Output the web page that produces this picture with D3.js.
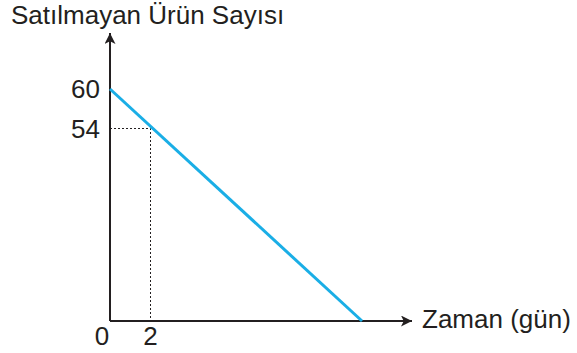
<!DOCTYPE html>
<html>
<head>
<meta charset="utf-8">
<script src="https://cdn.jsdelivr.net/npm/d3@7"></script>
<style>
  html, body { margin: 0; padding: 0; background: #fff; }
  svg { display: block; }
  text { font-family: "Liberation Sans", Arial, sans-serif; fill: #231f20; }
</style>
</head>
<body>
<svg></svg>
<script>
// chart values
const days = [0, 20];          // line start / end (x)
const unsold = [60, 0];        // line start / end (y)
const markDay = 2;
const markUnsold = 54;
const xTicks = [0, 2];
const yTicks = [60, 54];
const yTitle = 'Satılmayan Ürün Sayısı';
const xTitle = 'Zaman (gün)';

const width = 577, height = 353;
const svg = d3.select('svg').attr('width', width).attr('height', height);

// schematic axes: piecewise scales so the marked point sits where the picture puts it
const x = d3.scaleLinear().domain([0, markDay, 20]).range([110, 150.5, 362]);
const y = d3.scaleLinear().domain([0, markUnsold, 60]).range([321, 128.5, 89]);

const ink = '#231f20';
const fs = 26;

svg.append('defs').append('marker')
  .attr('id', 'arrow')
  .attr('viewBox', '0 0 10 10')
  .attr('refX', 10).attr('refY', 5)
  .attr('markerWidth', 11).attr('markerHeight', 11)
  .attr('markerUnits', 'userSpaceOnUse')
  .attr('orient', 'auto')
  .append('path')
  .attr('d', 'M0,0 L10,5 L0,10 L2.5,5 Z')
  .attr('fill', ink);

// axes
svg.append('line')
  .attr('x1', x(0)).attr('y1', y(0))
  .attr('x2', 412).attr('y2', y(0))
  .attr('stroke', ink).attr('stroke-width', 2)
  .attr('marker-end', 'url(#arrow)');

svg.append('line')
  .attr('x1', x(0)).attr('y1', y(0))
  .attr('x2', x(0)).attr('y2', 33)
  .attr('stroke', ink).attr('stroke-width', 2)
  .attr('marker-end', 'url(#arrow)');

// dotted guides
svg.append('path')
  .attr('d', `M${x(0)},${y(markUnsold)} H${x(markDay)} V${y(0)}`)
  .attr('fill', 'none')
  .attr('stroke', ink).attr('stroke-width', 1)
  .attr('stroke-dasharray', '2,2');

// the line
const pts = days.map((d, i) => [d, unsold[i]]);
svg.append('path')
  .datum(pts)
  .attr('d', d3.line().x(d => x(d[0])).y(d => y(d[1])))
  .attr('fill', 'none')
  .attr('stroke', '#1aaee6')
  .attr('stroke-width', 3);

// tick labels
svg.selectAll('.xt').data(xTicks).enter().append('text')
  .attr('class', 'xt')
  .attr('x', d => d === 0 ? 102 : x(d))
  .attr('y', 345)
  .attr('text-anchor', 'middle')
  .attr('font-size', fs)
  .text(d => d);

svg.selectAll('.yt').data(yTicks).enter().append('text')
  .attr('class', 'yt')
  .attr('x', 100)
  .attr('y', d => y(d) + 9)
  .attr('text-anchor', 'end')
  .attr('font-size', fs)
  .text(d => d);

// titles
svg.append('text')
  .attr('x', 11).attr('y', 24)
  .attr('font-size', fs)
  .text(yTitle);

svg.append('text')
  .attr('x', 422).attr('y', 328)
  .attr('font-size', fs)
  .text(xTitle);
</script>
</body>
</html>
